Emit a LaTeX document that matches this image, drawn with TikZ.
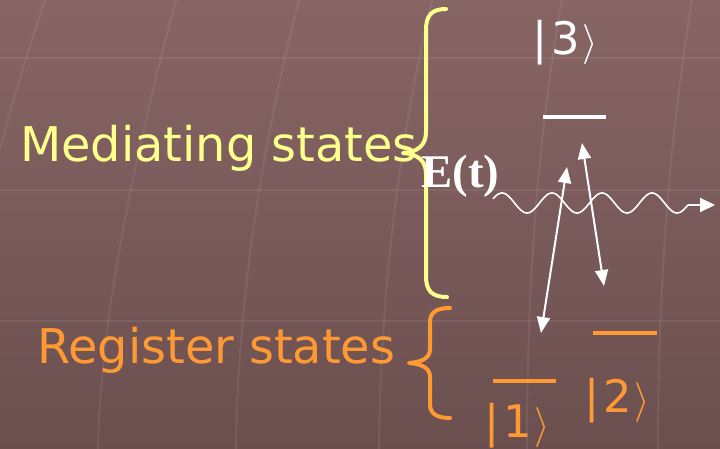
\documentclass[tikz,border=0pt]{standalone}
\usepackage{fontspec}
\setmainfont{DejaVu Sans}
\newfontfamily\etfont{Liberation Serif}
\usetikzlibrary{arrows.meta}
\definecolor{bgtop}{RGB}{136,101,101}
\definecolor{bgbot}{RGB}{107,79,79}
\definecolor{medyellow}{RGB}{255,255,140}
\definecolor{regorange}{RGB}{255,153,51}
\newcommand{\myket}[1]{|\kern4bp #1\kern3bp{\fontsize{10}{12}\selectfont\scalebox{4}{$\rangle$}}}
\tikzset{
  lbl/.style={inner sep=0pt, anchor=base west},
  bigtext/.style={font=\fontsize{48}{56}\selectfont},
  kettext/.style={font=\fontsize{45}{50}\selectfont},
  gridline/.style={white, opacity=0.07, line width=2bp},
  bracestyle/.style={line width=4bp, line cap=round, line join=round},
  levelline/.style={line width=4.5bp},
  trans/.style={white, line width=2bp, {Triangle[length=16bp,width=13bp]}-{Triangle[length=16bp,width=13bp]}},
}
\begin{document}
\begin{tikzpicture}[x=1bp,y=-1bp]
% background
\shade[top color=bgtop, bottom color=bgbot] (0,0) rectangle (720,449);
\useasboundingbox (0,0) rectangle (720,449);
% faint background grid
\draw[gridline] (0,58) -- (720,58);
\draw[gridline] (0,190) -- (720,190);
\draw[gridline] (0,321) -- (720,321);
\draw[gridline] (45,0) .. controls (25,60) and (10,110) .. (0,150);
\draw[gridline] (176,0) .. controls (130,170) and (100,330) .. (98,449);
\draw[gridline] (299,0) .. controls (255,170) and (237,330) .. (236,449);
\draw[gridline] (432,0) .. controls (392,170) and (380,330) .. (379,449);
\draw[gridline] (562,0) .. controls (532,170) and (527,330) .. (527,449);
\draw[gridline] (692,0) .. controls (664,170) and (658,330) .. (658,449);
% labels
\node[lbl, bigtext, text=medyellow] (med) at (20,162) {Mediating states};
\node[lbl, bigtext, text=regorange] (reg) at (37,363) {Register states};
% braces
\draw[bracestyle, medyellow] (446,9) .. controls (432,9) and (426,15) .. (426,30)
  -- (426,132) .. controls (426,145) and (418,152) .. (403,153)
  .. controls (418,154) and (426,161) .. (426,174)
  -- (426,276) .. controls (426,291) and (432,297) .. (447,297);
\draw[bracestyle, regorange] (450,308) .. controls (437,308) and (430,312) .. (430,322)
  -- (430,349) .. controls (430,358) and (422,362) .. (409,363)
  .. controls (422,364) and (430,368) .. (430,377)
  -- (430,404) .. controls (430,414) and (437,418) .. (450,418);
% energy levels
\draw[levelline, white] (543,117) coordinate (l3a) -- (606,117) coordinate (l3b);
\draw[levelline, regorange] (593,333) coordinate (l2a) -- (657,333) coordinate (l2b);
\draw[levelline, regorange] (493,381) coordinate (l1a) -- (556,381) coordinate (l1b);
% kets
\node[lbl, kettext, text=white] (k3) at (532,55) {\myket{3}};
\node[lbl, kettext, text=regorange] (k2) at (584,412) {\myket{2}};
\node[lbl, kettext, text=regorange] (k1) at (484,437) {\myket{1}};
% field
\node[lbl, text=white, font=\etfont\bfseries\fontsize{47}{50}\selectfont] (Et) at (421,188) {E(t)};
\begin{scope}[shift={(493,203)}]
\draw[white, line width=1.6bp] plot[domain=0:195, samples=160] (\x, {-10*cos((\x-9)*7.2)});
\end{scope}
\coordinate (wend) at (688,205);
\coordinate (wtip) at (715,205);
\draw[white, line width=2bp, -{Triangle[length=15bp,width=14bp]}] (wend) -- (wtip);
% transitions
\coordinate (a1) at (541,333);
\coordinate (a2) at (567,167);
\coordinate (b1) at (582,143);
\coordinate (b2) at (604,286);
\draw[trans] (a1) -- (a2);
\draw[trans] (b1) -- (b2);
\end{tikzpicture}
\end{document}
